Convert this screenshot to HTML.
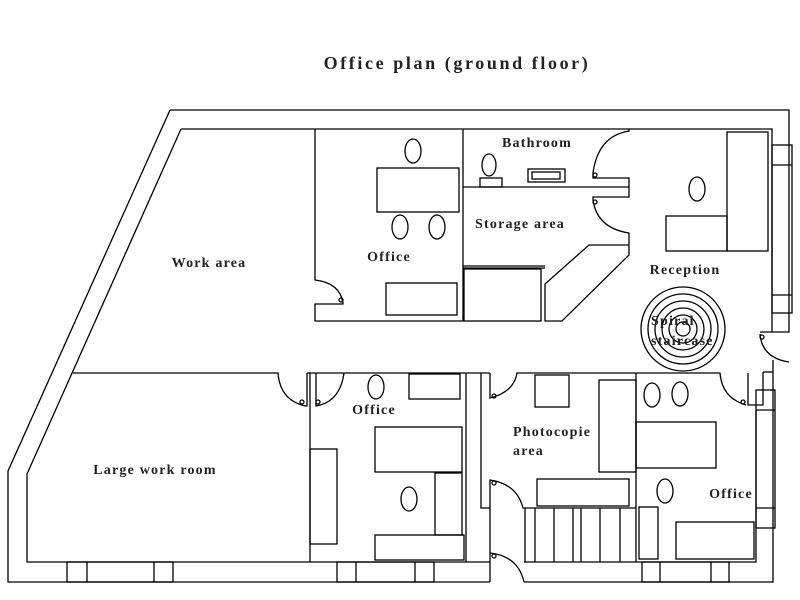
<!DOCTYPE html>
<html><head><style>
html,body{margin:0;padding:0;background:#fff;}
svg{display:block;}
text{font-family:"Liberation Serif",serif;font-weight:bold;fill:#222;letter-spacing:1.2px;}
</style></head><body>
<svg width="800" height="600" viewBox="0 0 800 600" xmlns="http://www.w3.org/2000/svg">
<g fill="none" stroke="#000" stroke-width="1.3">
<path d="M170,110 L789,110 L789,332 L760,332"/>
<path d="M170,110 L8,471 L8,582 L490,582"/>
<path d="M524,582 L773,582 L773,360"/>
<path d="M181,129 L772,129 L772,332"/>
<path d="M181,129 L27,474 L27,562 L490,562"/>
<path d="M524,562 L756,562 L756,410"/>
<rect x="772" y="145" width="20" height="168"/>
<line x1="772" y1="165" x2="792" y2="165"/><line x1="772" y1="295" x2="792" y2="295"/>
<rect x="756" y="390" width="19" height="138"/>
<line x1="756" y1="410" x2="775" y2="410"/><line x1="756" y1="508" x2="775" y2="508"/>
<path d="M760,334 Q762,358 789,362"/><circle cx="762" cy="337" r="2"/>
<path d="M763,372 L763,405 L748,405 L748,373"/><line x1="763" y1="372" x2="773" y2="372"/>
<rect x="67" y="562" width="106" height="20"/><line x1="87" y1="562" x2="87" y2="582"/><line x1="154" y1="562" x2="154" y2="582"/>
<rect x="337" y="562" width="97" height="20"/><line x1="356" y1="562" x2="356" y2="582"/><line x1="415" y1="562" x2="415" y2="582"/>
<rect x="642" y="562" width="87" height="20"/><line x1="660" y1="562" x2="660" y2="582"/><line x1="711" y1="562" x2="711" y2="582"/>
<path d="M73,373 L278,373 Q280,400 305,406 L307,406 L307,373"/>
<circle cx="302" cy="402" r="2"/>
<path d="M315,129 L315,280 Q340,283 343,303 L343,304 L315,304 L315,321 L463,321 L463,129"/>
<circle cx="341" cy="300" r="2"/>
<ellipse cx="413" cy="151" rx="8" ry="12"/>
<rect x="377" y="168" width="82" height="44"/>
<ellipse cx="400" cy="227" rx="8" ry="12"/><ellipse cx="437" cy="227" rx="8" ry="12"/>
<rect x="386" y="283" width="71" height="32"/>
<line x1="463" y1="187" x2="629" y2="187"/>
<ellipse cx="489" cy="165" rx="7" ry="11"/>
<rect x="480" y="178" width="22" height="9"/>
<rect x="528" y="169" width="37" height="13"/><rect x="532" y="172" width="28" height="7"/>
<path d="M629,129 L629,131 Q598,136 593,173 L593,178 L629,178 L629,187"/>
<circle cx="595" cy="175" r="2"/>
<path d="M629,187 L629,197 L593,197 L593,200 Q597,228 629,233 L629,245 L589,245 L545,284 L545,321 L562,321 L629,255 L629,245"/>
<circle cx="595" cy="202" r="2"/>
<line x1="463" y1="266" x2="545" y2="266"/><line x1="463" y1="268" x2="545" y2="268"/>
<rect x="464" y="269" width="77" height="52"/>
<rect x="727" y="132" width="41" height="119"/>
<rect x="666" y="216" width="61" height="35"/>
<ellipse cx="697" cy="189" rx="8" ry="12"/>
<circle cx="683" cy="329" r="42"/><circle cx="683" cy="329" r="35"/><circle cx="683" cy="329" r="28"/><circle cx="683" cy="329" r="21"/><circle cx="683" cy="329" r="14"/><circle cx="683" cy="329" r="7"/>
<line x1="307" y1="373" x2="344" y2="373"/>
<path d="M310,373 L310,562"/>
<path d="M316,373 L316,406 Q340,402 344,373"/><circle cx="318" cy="402" r="2"/>
<line x1="344" y1="373" x2="490" y2="373"/>
<line x1="466" y1="373" x2="466" y2="562"/>
<path d="M481,373 L481,508 L490,508 L490,480 Q517,484 523,508 L636,508"/>
<circle cx="494" cy="483" r="2"/>
<path d="M490,373 L490,398 Q514,392 517,373 L720,373 Q722,398 746,405"/>
<circle cx="494" cy="396" r="2"/><circle cx="743" cy="402" r="2"/>
<line x1="490" y1="508" x2="490" y2="582"/>
<path d="M490,553 Q518,556 524,582"/><circle cx="494" cy="556" r="2"/>
<ellipse cx="376" cy="387" rx="8" ry="12"/>
<rect x="409" y="374" width="51" height="25"/>
<rect x="375" y="427" width="87" height="45"/>
<rect x="435" y="473" width="27" height="62"/>
<ellipse cx="409" cy="499" rx="8" ry="12"/>
<rect x="375" y="535" width="89" height="25"/>
<rect x="310" y="449" width="27" height="95"/>
<rect x="535" y="375" width="34" height="32"/>
<rect x="599" y="380" width="37" height="92"/>
<rect x="537" y="479" width="92" height="27"/>
<line x1="636" y1="373" x2="636" y2="562"/>
<line x1="525" y1="508" x2="525" y2="562"/><line x1="535" y1="508" x2="535" y2="562"/><line x1="554" y1="508" x2="554" y2="562"/><line x1="573" y1="508" x2="573" y2="562"/><line x1="581" y1="508" x2="581" y2="562"/><line x1="600" y1="508" x2="600" y2="562"/><line x1="620" y1="508" x2="620" y2="562"/>
<ellipse cx="652" cy="395" rx="8" ry="12"/><ellipse cx="680" cy="394" rx="8" ry="12"/>
<rect x="636" y="422" width="80" height="46"/>
<ellipse cx="665" cy="491" rx="8" ry="12"/>
<rect x="639" y="507" width="19" height="52"/>
<rect x="676" y="522" width="78" height="37"/>
</g>
<text x="457" y="69" font-size="18" text-anchor="middle" style="letter-spacing:2.6px">Office plan (ground floor)</text>
<text x="537" y="147" font-size="14" text-anchor="middle">Bathroom</text>
<text x="520" y="228" font-size="14" text-anchor="middle">Storage area</text>
<text x="209" y="267" font-size="14" text-anchor="middle">Work area</text>
<text x="389" y="261" font-size="14" text-anchor="middle">Office</text>
<text x="685" y="274" font-size="14" text-anchor="middle">Reception</text>
<text x="651" y="325" font-size="14">Spiral</text>
<text x="651" y="345" font-size="14">staircase</text>
<text x="374" y="414" font-size="14" text-anchor="middle">Office</text>
<text x="155" y="474" font-size="14" text-anchor="middle">Large work room</text>
<text x="513" y="436" font-size="14">Photocopie</text>
<text x="513" y="455" font-size="14">area</text>
<text x="731" y="498" font-size="14" text-anchor="middle">Office</text>
</svg>
</body></html>
